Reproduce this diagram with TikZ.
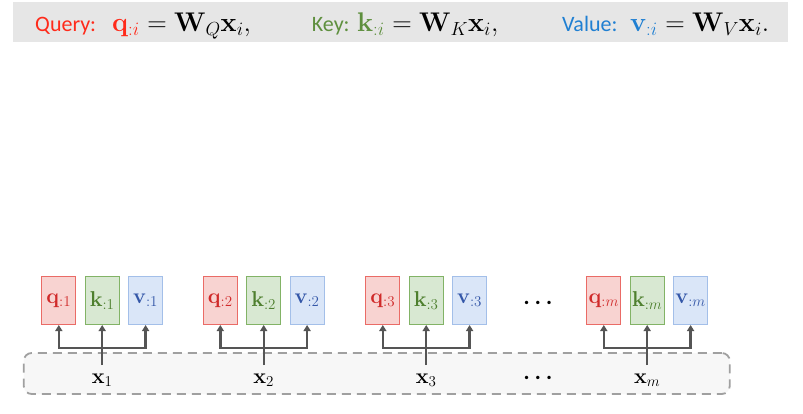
\RequirePackage{fix-cm}
\documentclass[tikz,border=0pt]{standalone}
\usepackage{bm}
\usepackage[no-math]{fontspec}
\newfontfamily\carl{Carlito}
\usetikzlibrary{arrows.meta}
\definecolor{bannergray}{HTML}{E6E6E6}
\definecolor{labred}{HTML}{FF2A1A}
\definecolor{labgreen}{HTML}{5E8F3E}
\definecolor{labblue}{HTML}{1F7FD2}
\definecolor{qfill}{HTML}{F8D3D1}
\definecolor{qdraw}{HTML}{EA6B66}
\definecolor{qtext}{HTML}{D02A2A}
\definecolor{kfill}{HTML}{D8E8D2}
\definecolor{kdraw}{HTML}{82B366}
\definecolor{ktext}{HTML}{4E7F2E}
\definecolor{vfill}{HTML}{DAE6F8}
\definecolor{vdraw}{HTML}{A3BFE9}
\definecolor{vtext}{HTML}{3457A8}
\definecolor{arrgray}{HTML}{555555}
\definecolor{dashgray}{HTML}{A0A0A0}
\definecolor{basefill}{HTML}{F7F7F7}
\begin{document}
\begin{tikzpicture}[x=1pt,y=-1pt,
  banner/.style={fill=bannergray, draw=none, minimum width=775pt, minimum height=40pt, inner sep=0pt},
  bantext/.style={anchor=base west, inner sep=0pt, font=\carl\fontsize{22}{26}\selectfont},
  baneq/.style={anchor=base west, inner sep=0pt, font=\fontsize{27}{30}\selectfont},
  vecbox/.style={minimum width=34pt, minimum height=48pt, inner sep=0pt, line width=1pt, font=\fontsize{21.5}{24}\selectfont},
  qbox/.style={vecbox, fill=qfill, draw=qdraw, text=qtext},
  kbox/.style={vecbox, fill=kfill, draw=kdraw, text=ktext},
  vbox/.style={vecbox, fill=vfill, draw=vdraw, text=vtext},
  xlab/.style={anchor=base, inner sep=0pt, font=\fontsize{21.5}{24}\selectfont},
  dotlab/.style={inner sep=0pt, font=\fontsize{22}{24}\selectfont},
  conn/.style={draw=arrgray, line width=2.4pt, {Triangle[length=6pt,width=7pt]}-{Triangle[length=6pt,width=7pt]}},
  conn1/.style={draw=arrgray, line width=2.4pt, -{Triangle[length=6pt,width=7pt]}},
  basebox/.style={draw=dashgray, fill=basefill, line width=1.8pt, dash pattern=on 9pt off 6pt, rounded corners=8pt, minimum width=706pt, minimum height=41pt, inner sep=0pt}
]
\useasboundingbox (0,0) rectangle (803,414);
\fill[white] (0,0) rectangle (803,414);
% banner
\node[banner] (ban) at (400.5,22.5) {};
\node[bantext, text=labred] (query) at (35,31.5) {Query:};
\node[baneq] (queryeq) at (112,31.5) {$\color{labred}\mathbf{q}_{:i}\color{black} = \mathbf{W}_Q\mathbf{x}_i,$};
\node[bantext, text=labgreen] (key) at (311.7,31.5) {Key:};
\node[baneq] (keyeq) at (357,31.5) {$\color{labgreen}\mathbf{k}_{:i}\color{black} = \mathbf{W}_K\mathbf{x}_i,$};
\node[bantext, text=labblue] (value) at (562,31.5) {Value:};
\node[baneq] (valueeq) at (630,31.5) {$\color{labblue}\mathbf{v}_{:i}\color{black} = \mathbf{W}_V\mathbf{x}_i.$};
% base dashed box
\node[basebox] (base) at (376.75,373.5) {};
% groups
\foreach \i/\c in {1/102.2, 2/263.7, 3/426.2, m/647.2} {
  \node[qbox] (q\i) at (\c-43.4,300.5) {$\mathbf{q}_{:\i}$};
  \node[kbox] (k\i) at (\c,300.5) {$\mathbf{k}_{:\i}$};
  \node[vbox] (v\i) at (\c+43.4,300.5) {$\mathbf{v}_{:\i}$};
  \node[xlab] (x\i) at (\c,383) {$\mathbf{x}_{\i}$};
  \coordinate (j\i) at (\c,347.7);
  \coordinate (b\i) at (\c,365);
  \draw[conn] (q\i.south) -- (q\i.south |- j\i) -- (v\i.south |- j\i) -- (v\i.south);
  \draw[conn1] (b\i) -- (k\i.south);
}
\node[dotlab] (dtop) at (538,303) {$\bm{\cdots}$};
\node[dotlab] (dbot) at (538,378) {$\bm{\cdots}$};
\end{tikzpicture}
\end{document}
